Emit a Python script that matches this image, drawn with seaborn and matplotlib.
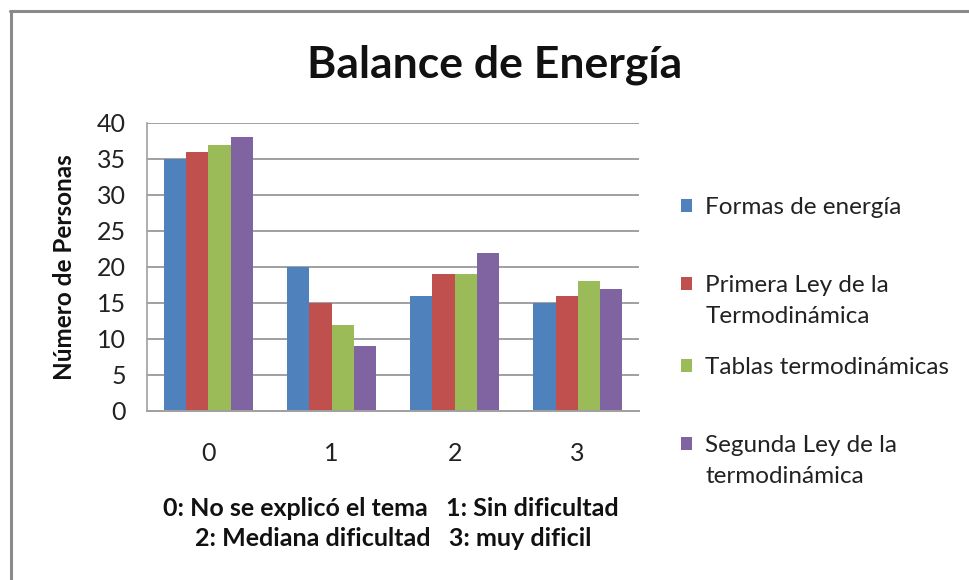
import matplotlib
matplotlib.use("Agg")
import matplotlib.pyplot as plt
import seaborn as sns
import pandas as pd
from matplotlib.lines import Line2D
from matplotlib.patches import Patch

categories = ["0", "1", "2", "3"]
series = ["Formas de energía", "Primera Ley de la Termodinámica",
          "Tablas termodinámicas", "Segunda Ley de la termodinámica"]
legend_lines = [["Formas de energía"],
                ["Primera Ley de la", "Termodinámica"],
                ["Tablas termodinámicas"],
                ["Segunda Ley de la", "termodinámica"]]
formas = [35, 20, 16, 15]
primera = [36, 15, 19, 16]
tablas = [37, 12, 19, 18]
segunda = [38, 9, 22, 17]
colors = ["#4F81BD", "#C0504D", "#9BBB59", "#8064A2"]
yticks = [0, 5, 10, 15, 20, 25, 30, 35, 40]

rows = []
for s, vals in zip(series, [formas, primera, tablas, segunda]):
    for c, v in zip(categories, vals):
        rows.append({"cat": c, "serie": s, "val": v})
df = pd.DataFrame(rows)

sns.set_theme(style="white")
plt.rcParams["font.family"] = ["Lato", "DejaVu Sans"]

fig = plt.figure(figsize=(9.7, 5.8), dpi=100)
ax = fig.add_axes([0.1515, 0.2914, 0.5075, 0.4966])

sns.barplot(data=df, x="cat", y="val", hue="serie", order=categories,
            hue_order=series, palette=colors, width=0.72, saturation=1,
            edgecolor="none", linewidth=0, ax=ax, legend=False)

ax.set_ylim(0, 40)
ax.set_xlim(-0.5, 3.5)
ax.set_yticks(yticks)
ax.set_yticklabels([str(t) for t in yticks], fontsize=18, color="#222222")
ax.tick_params(axis="x", labelsize=18, pad=22, length=0, colors="#222222")
ax.tick_params(axis="y", pad=15, length=0)
ax.yaxis.grid(True, color="#a0a0a0", linewidth=1.4)
ax.set_axisbelow(True)
for sp in ["top", "right"]:
    ax.spines[sp].set_visible(False)
ax.spines["left"].set_color("#a0a0a0")
ax.spines["bottom"].set_color("#a0a0a0")
ax.spines["left"].set_linewidth(1.2)
ax.spines["bottom"].set_linewidth(1.4)
ax.set_xlabel("")
ax.set_ylabel("Número de Personas", fontsize=17.5, fontweight="bold",
              color="#111111", labelpad=15)

# legend: one block per series, first line aligned with its colour square
first_line_px = [205, 283, 365, 443]
for col, lines, ypx in zip(colors, legend_lines, first_line_px):
    hs = [Patch(facecolor=col, edgecolor="none")]
    hs += [Patch(facecolor="none", edgecolor="none")] * (len(lines) - 1)
    lg = fig.legend(hs, lines, loc="upper left",
                    bbox_to_anchor=(0.702, 1 - (ypx - 8) / 580),
                    bbox_transform=fig.transFigure, frameon=False,
                    fontsize=17.5, labelspacing=0.43, handlelength=0.45,
                    handleheight=0.45, handletextpad=0.55, borderpad=0,
                    borderaxespad=0)
    for t in lg.get_texts():
        t.set_color("#222222")

fig.text(0.51, 0.888, "Balance de Energía", ha="center", va="center",
         fontsize=32, fontweight="bold", color="#111111")
fig.text(0.403, 0.123, "0: No se explicó el tema   1: Sin dificultad",
         ha="center", va="center", fontsize=18, fontweight="bold",
         color="#111111")
fig.text(0.405, 0.071, "2: Mediana dificultad   3: muy dificil",
         ha="center", va="center", fontsize=18, fontweight="bold",
         color="#111111")

fig.add_artist(Line2D([0.010, 1.0], [0.981, 0.981], transform=fig.transFigure,
                      color="#8a8a8a", linewidth=2.2))
fig.add_artist(Line2D([0.011, 0.011], [0.0, 0.981], transform=fig.transFigure,
                      color="#8a8a8a", linewidth=2.2))

fig.savefig("out.png", dpi=100, facecolor="white")
